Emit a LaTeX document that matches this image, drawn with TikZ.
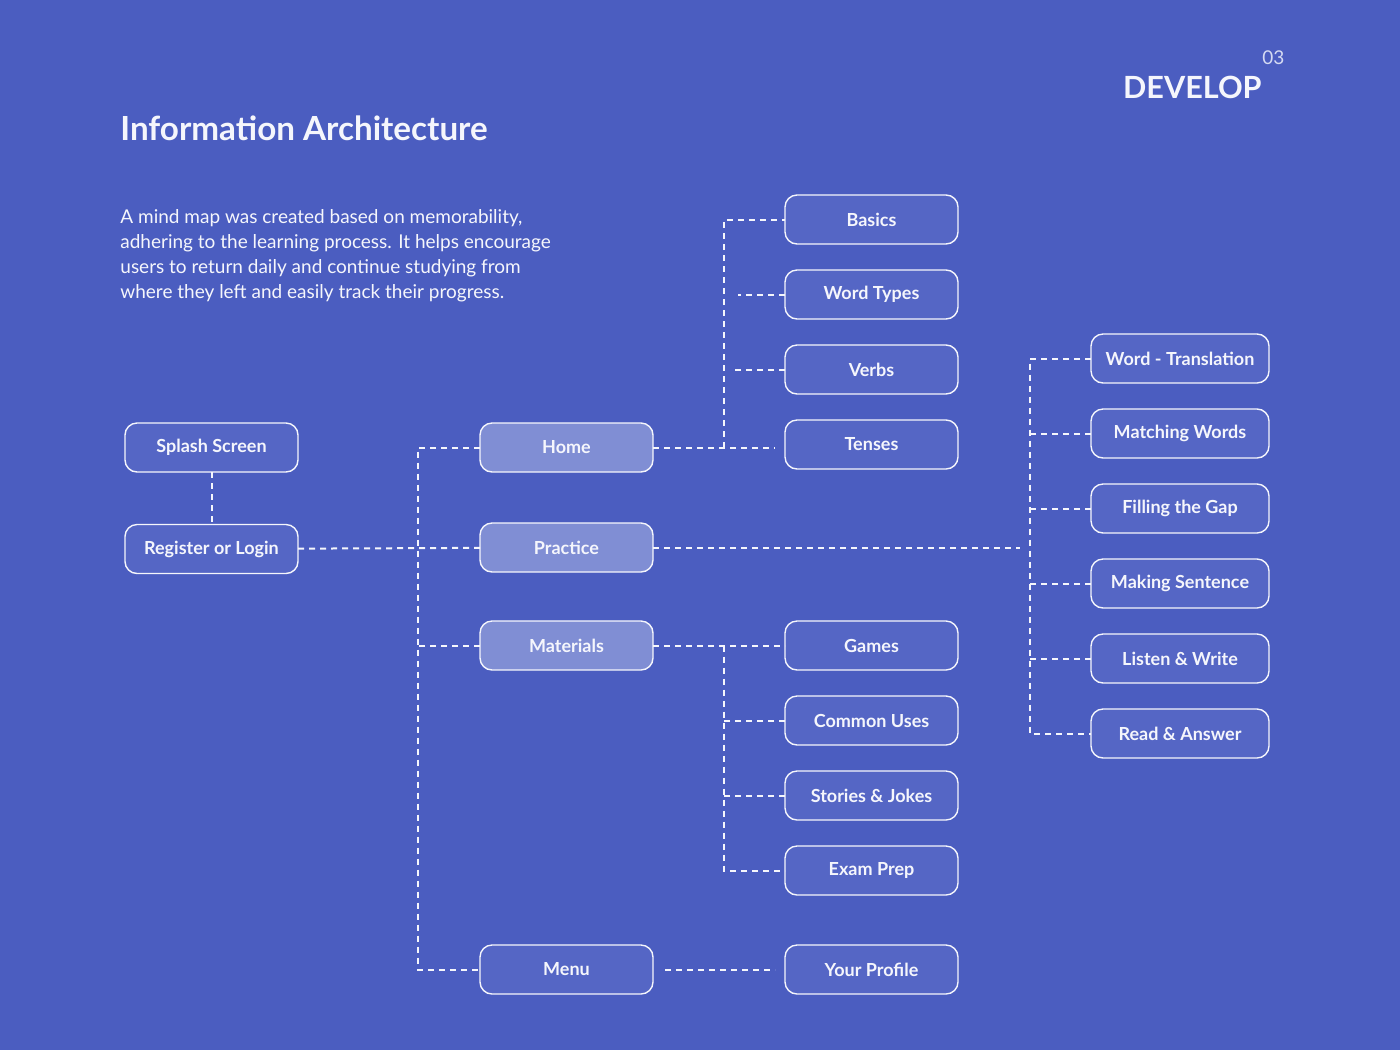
\documentclass[tikz,border=0pt]{standalone}
\usepackage{fontspec}
\setmainfont{Lato}
\usetikzlibrary{positioning}
\definecolor{bgblue}{HTML}{4B5DC0}
\definecolor{boxblue}{HTML}{5566C5}
\definecolor{hiblue}{HTML}{808ED4}
\definecolor{inkwhite}{HTML}{F5F6FC}
\definecolor{numgrey}{HTML}{D5DAF2}

\begin{document}
\begin{tikzpicture}[x=0.5pt, y=-0.5pt,
  every node/.style = {text=inkwhite, font=\bfseries\fontsize{9}{11}\selectfont},
  box/.style = {shape=rectangle, rounded corners=6pt,
    draw=inkwhite, line width=0.7pt, fill=boxblue, outer sep=0pt,
    minimum width=86.5pt, minimum height=24.5pt, inner sep=0pt},
  hibox/.style = {box, fill=hiblue},
  wbox/.style = {box, minimum width=89pt},
  link/.style = {draw=inkwhite, line width=1pt, dash pattern=on 3pt off 2.5pt}]

  \fill[bgblue] (0,0) rectangle (1400,1050);
  \useasboundingbox (0,0) rectangle (1400,1050);

  % headings
  \node[anchor=base west, inner sep=0pt, font=\bfseries\fontsize{16.6}{18}\selectfont] (title) at (120,140) {Information Architecture};
  \node[anchor=base east, inner sep=0pt, font=\bfseries\fontsize{15.3}{18}\selectfont] (develop) at (1262,98) {DEVELOP};
  \node[anchor=base west, text=numgrey, font=\fontsize{9.5}{11}\selectfont, inner sep=0pt] (num) at (1262,64) {03};
  \node[anchor=north west, align=left, inner sep=0pt,
    font=\fontsize{9.5}{12.5}\selectfont] (intro) at (120,209)
    {A mind map was created based on memorability,\\
     adhering to the learning process. It helps encourage\\
     users to return daily and continue studying from\\
     where they left and easily track their progress.};

  % left column
  \node[box] (splash) at (211.5,447.5) {Splash Screen};
  \node[box] (reg) at (211.5,549) {Register or Login};

  % main sections
  \node[hibox] (home) at (566.5,447.5) {Home};
  \node[hibox] (prac) at (566.5,547.5) {Practice};
  \node[hibox] (mat) at (566.5,645.5) {Materials};
  \node[box] (menu) at (566.5,969.5) {Menu};

  % home topics
  \node[box] (basics) at (871.5,219.5) {Basics};
  \node[box, below=13pt of basics] (wtypes) {Word Types};
  \node[box, below=13pt of wtypes] (verbs) {Verbs};
  \node[box, below=13pt of verbs] (tenses) {Tenses};

  % materials
  \node[box] (games) at (871.5,645.5) {Games};
  \node[box, below=13pt of games] (uses) {Common Uses};
  \node[box, below=13pt of uses] (stories) {Stories \& Jokes};
  \node[box, below=13pt of stories] (exam) {Exam Prep};
  \node[box] (profile) at (871.5,969.5) {Your Profile};

  % practice exercises
  \node[wbox] (wtrans) at (1180,358.5) {Word - Translation};
  \node[wbox, below=13pt of wtrans] (match) {Matching Words};
  \node[wbox, below=13pt of match] (gap) {Filling the Gap};
  \node[wbox, below=13pt of gap] (making) {Making Sentence};
  \node[wbox, below=13pt of making] (listen) {Listen \& Write};
  \node[wbox, below=13pt of listen] (readans) {Read \& Answer};

  % trunks
  \coordinate (ltrunk) at (418,0);
  \coordinate (htrunk) at (724,0);
  \coordinate (ptrunk) at (1030,0);

  \draw[link] (splash) -- (reg);
  \draw[link] (reg) -- (prac);
  \draw[link] (home.west) -- (home.west -| ltrunk) |- (menu.west);
  \draw[link] (mat.west) -- (mat.west -| ltrunk);

  \draw[link, shorten >=5pt] (home.east) -- (home.east -| tenses.west);
  \draw[link] (home.east -| htrunk) |- (basics.west);
  \draw[link, shorten >=7pt] (wtypes.west) -- (wtypes.west -| htrunk);
  \draw[link, shorten >=5.5pt] (verbs.west) -- (verbs.west -| htrunk);

  \draw[link, shorten >=5pt] (prac.east) -- (prac.east -| ptrunk);
  \draw[link] (wtrans.west) -- (wtrans.west -| ptrunk) |- (readans.west);
  \foreach \n in {match,gap,making,listen}
    \draw[link] (\n.west) -- (\n.west -| ptrunk);

  \draw[link] (mat) -- (games);
  \draw[link] (mat.east -| htrunk) |- (exam.west);
  \foreach \n in {uses,stories}
    \draw[link] (\n.west) -- (\n.west -| htrunk);

  \draw[link, shorten <=6pt, shorten >=5pt] (menu) -- (profile);
\end{tikzpicture}
\end{document}
